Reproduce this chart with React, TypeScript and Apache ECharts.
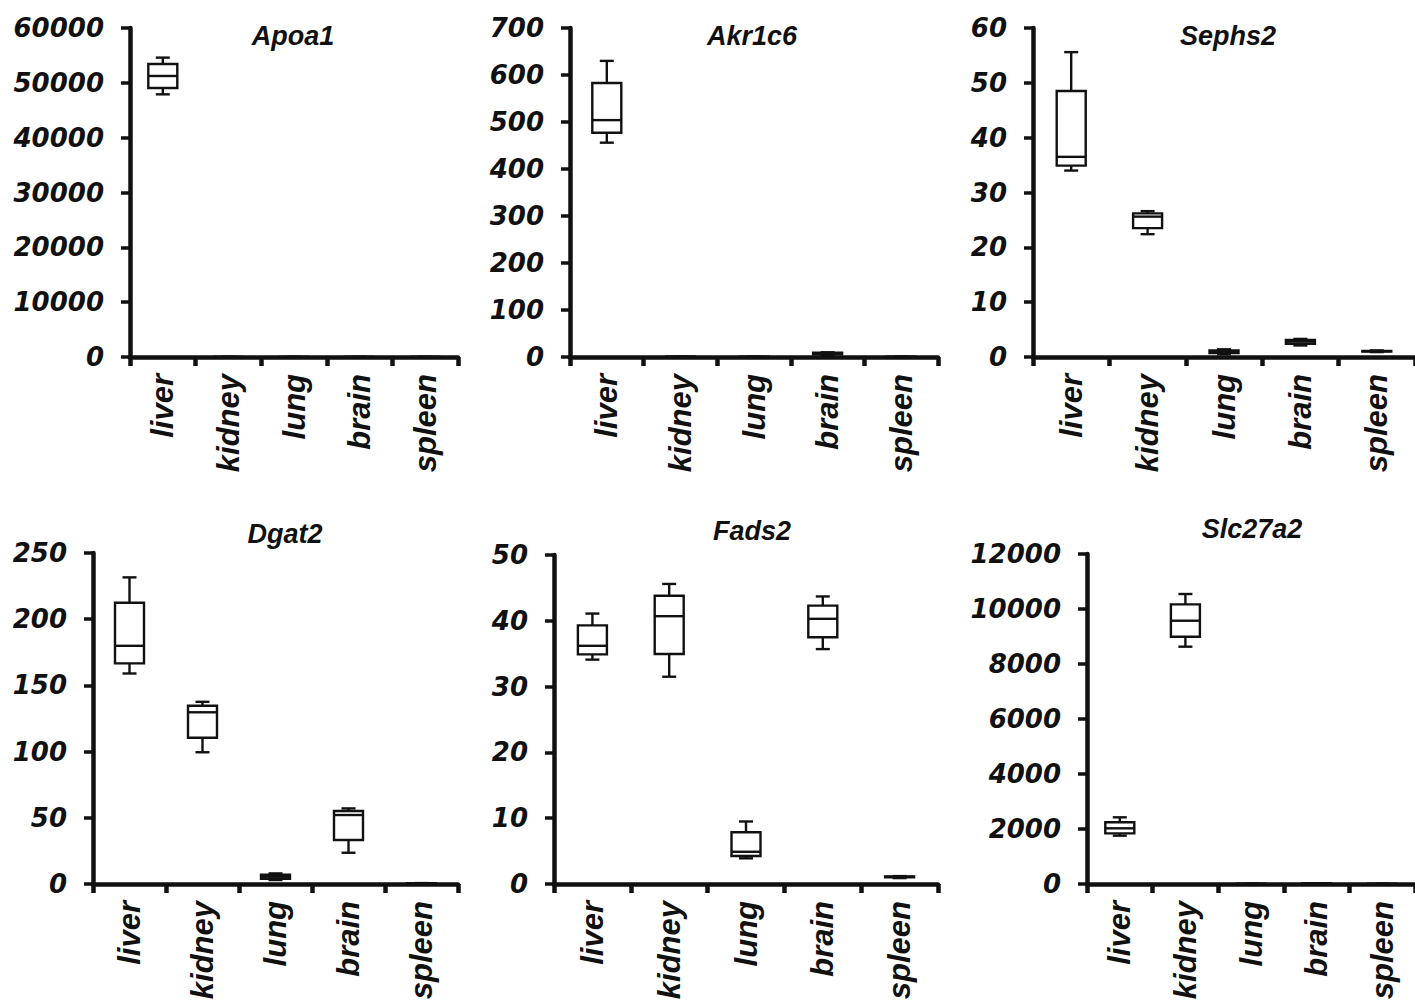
import React, { useEffect, useRef } from "react";
import * as echarts from "echarts";

const categories = ["liver", "kidney", "lung", "brain", "spleen"];

// [min, Q1, median, Q3, max] per tissue
const apoa1 = [[47900, 49060, 51250, 53430, 54600], [5, 8, 10, 12, 15], [2, 3, 4, 5, 6], [1, 2, 3, 4, 5], [1, 2, 3, 4, 5]];
const akr1c6 = [[456, 477, 504, 583, 630], [0.2, 0.3, 0.4, 0.5, 0.6], [0.1, 0.2, 0.3, 0.4, 0.5], [4, 5.5, 7, 9, 10], [0.1, 0.2, 0.3, 0.4, 0.5]];
const sephs2 = [[34.0, 34.9, 36.5, 48.5, 55.6], [22.4, 23.5, 25.6, 26.2, 26.6], [0.5, 0.7, 0.9, 1.2, 1.4], [2.1, 2.4, 2.8, 3.1, 3.3], [0.9, 1.0, 1.05, 1.1, 1.2]];
const dgat2 = [[159, 166.6, 179.9, 212.4, 231.6], [99.5, 110.5, 129.7, 134.6, 137.6], [3, 4, 5.5, 7, 8], [23.6, 33.2, 52.1, 55.1, 57.1], [0.3, 0.4, 0.5, 0.6, 0.7]];
const fads2 = [[34.1, 34.9, 36.2, 39.3, 41.1], [31.5, 34.95, 40.7, 43.8, 45.6], [3.9, 4.26, 4.9, 7.86, 9.5], [35.7, 37.5, 40.3, 42.3, 43.7], [0.9, 1.0, 1.1, 1.15, 1.2]];
const slc27a2 = [[1757, 1840, 2025, 2243, 2425], [8630, 8992, 9574, 10170, 10545], [2, 3, 4, 5, 6], [10, 15, 20, 25, 30], [2, 3, 4, 5, 6]];

const genes = ["Apoa1", "Akr1c6", "Sephs2", "Dgat2", "Fads2", "Slc27a2"];
const geneData = [apoa1, akr1c6, sephs2, dgat2, fads2, slc27a2];
const yMax = [60000, 700, 60, 250, 50, 12000];
const yInterval = [10000, 100, 10, 50, 10, 2000];

// layout (px)
const grids = [
  { left: 130, top: 28, width: 328, height: 329 },
  { left: 570, top: 28, width: 368, height: 329 },
  { left: 1033, top: 28, width: 385, height: 329 },
  { left: 93, top: 553, width: 365, height: 331 },
  { left: 554, top: 555, width: 384, height: 329 },
  { left: 1087, top: 554, width: 330, height: 330 },
];
const titlePos = [
  { x: 293, y: 37 },
  { x: 752, y: 37 },
  { x: 1228, y: 37 },
  { x: 285, y: 535 },
  { x: 752, y: 532 },
  { x: 1252, y: 530 },
];

const INK = "#111";
const BOX_W = 29;
const CAP_W = 14;
const LW = 2.4;

function renderBox(params: any, api: any) {
  const ci = api.value(0);
  const mn = api.coord([ci, api.value(1)]);
  const q1 = api.coord([ci, api.value(2)]);
  const md = api.coord([ci, api.value(3)]);
  const q3 = api.coord([ci, api.value(4)]);
  const mx = api.coord([ci, api.value(5)]);
  const cx = mn[0];
  const hb = BOX_W / 2;
  const hc = CAP_W / 2;
  const st = { stroke: INK, lineWidth: LW, fill: "none" };
  return {
    type: "group",
    children: [
      { type: "line", shape: { x1: cx, y1: mx[1], x2: cx, y2: q3[1] }, style: st },
      { type: "line", shape: { x1: cx, y1: q1[1], x2: cx, y2: mn[1] }, style: st },
      { type: "line", shape: { x1: cx - hc, y1: mx[1], x2: cx + hc, y2: mx[1] }, style: st },
      { type: "line", shape: { x1: cx - hc, y1: mn[1], x2: cx + hc, y2: mn[1] }, style: st },
      {
        type: "rect",
        shape: { x: cx - hb, y: q3[1], width: BOX_W, height: Math.max(q1[1] - q3[1], 0.5) },
        style: { stroke: INK, lineWidth: LW, fill: "#fff" },
      },
      { type: "line", shape: { x1: cx - hb, y1: md[1], x2: cx + hb, y2: md[1] }, style: st },
    ],
  };
}

export default function App() {
  const ref = useRef<HTMLDivElement>(null);
  useEffect(() => {
    if (!ref.current) return;
    const chart = echarts.init(ref.current, undefined, { renderer: "svg" });
    const option: any = {
      animation: false,
      backgroundColor: "#fff",
      grid: grids.map((g) => ({ ...g, containLabel: false })),
      title: genes.map((g, i) => ({
        text: g,
        left: titlePos[i].x,
        top: titlePos[i].y - 15,
        textAlign: "center",
        padding: 0,
        textStyle: {
          fontFamily: "Liberation Sans, Arial, sans-serif",
          fontStyle: "italic",
          fontWeight: "bold",
          fontSize: 27,
          color: INK,
        },
      })),
      xAxis: genes.map((_, i) => ({
        type: "category",
        gridIndex: i,
        data: categories,
        boundaryGap: true,
        axisLine: { show: true, lineStyle: { color: INK, width: 4.5 } },
        axisTick: { show: true, length: 9, lineStyle: { color: INK, width: 4.5 } },
        axisLabel: {
          rotate: 90,
          interval: 0,
          margin: 17,
          color: INK,
          fontFamily: "Liberation Sans, Arial, sans-serif",
          fontStyle: "italic",
          fontWeight: "bold",
          fontSize: 31,
        },
        splitLine: { show: false },
      })),
      yAxis: genes.map((_, i) => ({
        type: "value",
        gridIndex: i,
        min: 0,
        max: yMax[i],
        interval: yInterval[i],
        axisLine: { show: true, lineStyle: { color: INK, width: 4.5 } },
        axisTick: { show: true, length: 9, lineStyle: { color: INK, width: 3.5 } },
        axisLabel: {
          margin: 26,
          color: INK,
          fontFamily: "DejaVu Sans, sans-serif",
          fontStyle: "italic",
          fontWeight: "bold",
          fontSize: 26,
          formatter: (v: number) => String(v),
        },
        splitLine: { show: false },
      })),
      series: geneData.map((arr, i) => ({
        type: "custom",
        name: genes[i],
        xAxisIndex: i,
        yAxisIndex: i,
        clip: false,
        renderItem: renderBox,
        encode: { x: 0, y: [1, 2, 3, 4, 5] },
        data: arr.map((v, ci) => [ci, ...v]),
        z: 1,
      })),
    };
    chart.setOption(option);
    return () => chart.dispose();
  }, []);
  return (
    <div
      ref={ref}
      style={{ position: "absolute", left: 0, top: 0, width: 1415, height: 1006, background: "#fff" }}
    />
  );
}
